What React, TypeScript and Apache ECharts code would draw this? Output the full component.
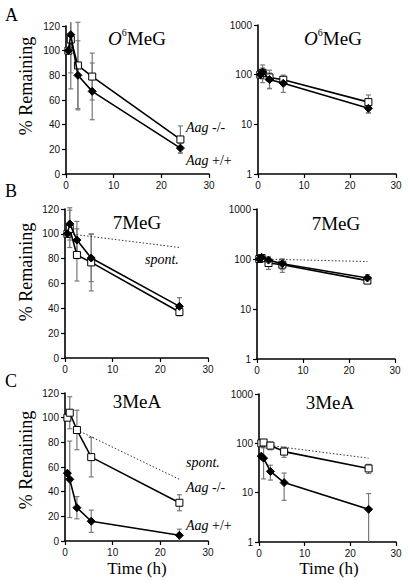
import React, { useEffect, useRef } from "react";
import * as echarts from "echarts";

// ---- data ----
const times = [0.5, 1, 2.5, 5.5, 24];
const xTicks = [0, 10, 20, 30];

// O6MeG
const o6KO = [100, 109, 88, 79, 28];
const o6KOErr = [0, 27, 35, 19, 11];
const o6WT = [100, 113, 80, 67, 21];
const o6WTErr = [0, 44, 28, 23, 4];

// 7MeG
const m7KO = [100, 104, 83, 77, 37];
const m7KOErr = [0, 15, 21, 23, 3];
const m7WT = [100, 108, 95, 80.5, 41.6];
const m7WTErr = [0, 13, 15, 19, 7];
const m7SpontT = [1, 24];
const m7Spont = [100, 89];

// 3MeA
const a3KO = [100, 104, 90, 68, 31];
const a3KOErr = [0, 13, 16, 16, 6.5];
const a3WT = [55, 50, 27, 16, 4.6];
const a3WTErr = [0, 31, 9, 9, 5];
const a3SpontT = [2.5, 24];
const a3Spont = [90, 50];

const SERIF = "Liberation Serif, Times New Roman, serif";
const SANS = "Liberation Sans, Arial, sans-serif";

type Panel = {
  ko: number[]; koErr: number[]; wt: number[]; wtErr: number[];
  spontT?: number[]; spont?: number[];
};
const panels: Panel[] = [
  { ko: o6KO, koErr: o6KOErr, wt: o6WT, wtErr: o6WTErr },
  { ko: m7KO, koErr: m7KOErr, wt: m7WT, wtErr: m7WTErr, spontT: m7SpontT, spont: m7Spont },
  { ko: a3KO, koErr: a3KOErr, wt: a3WT, wtErr: a3WTErr, spontT: a3SpontT, spont: a3Spont },
];

// grid boxes [left, top, width, height] for linear (left) and log (right)
const boxes = [
  [[66, 26, 143, 148], [258, 25, 138, 149]],
  [[65, 209, 143, 149], [257, 209, 138, 150]],
  [[65, 393, 143, 148], [259, 394, 137, 148]],
];

function errData(vals: number[], errs: number[], min: number, max: number) {
  const out: number[][] = [];
  times.forEach((t, i) => {
    if (!errs[i]) return;
    let lo = vals[i] - errs[i];
    let hi = vals[i] + errs[i];
    let capLo = 1, capHi = 1;
    if (lo < min) { lo = min; capLo = 0; }
    if (hi > max) { hi = max; capHi = 0; }
    out.push([t, lo, hi, capLo, capHi]);
  });
  return out;
}

const renderErr = (params: any, api: any) => {
  const x = api.value(0);
  const lo = api.value(1);
  const hi = api.value(2);
  const pLo = api.coord([x, lo]);
  const pHi = api.coord([x, hi]);
  const w = 2.5;
  const style = { stroke: "#7a7a7a", lineWidth: 1.2, fill: "none" };
  const children: any[] = [
    { type: "line", shape: { x1: pLo[0], y1: pLo[1], x2: pHi[0], y2: pHi[1] }, style },
  ];
  if (api.value(4)) children.push({ type: "line", shape: { x1: pHi[0] - w, y1: pHi[1], x2: pHi[0] + w, y2: pHi[1] }, style });
  if (api.value(3)) children.push({ type: "line", shape: { x1: pLo[0] - w, y1: pLo[1], x2: pLo[0] + w, y2: pLo[1] }, style });
  return { type: "group", children };
};

function buildOption() {
  const grid: any[] = [];
  const xAxis: any[] = [];
  const yAxis: any[] = [];
  const series: any[] = [];
  const axisLine = { show: true, lineStyle: { color: "#000", width: 1.6 } };
  const axisTick = { show: true, length: 4, inside: false, lineStyle: { color: "#000", width: 1.2 } };
  const lbl = { fontSize: 10, fontFamily: SANS, color: "#111" };
  let idx = 0;
  panels.forEach((p, pi) => {
    [0, 1].forEach((side) => {
      const b = boxes[pi][side];
      const isLog = side === 1;
      grid.push({ left: b[0], top: b[1], width: b[2], height: b[3] });
      xAxis.push({
        gridIndex: idx, type: "value", min: xTicks[0], max: xTicks[xTicks.length - 1], interval: 10,
        axisLine, axisTick, splitLine: { show: false },
        axisLabel: { ...lbl, margin: 6 },
      });
      if (isLog) {
        yAxis.push({
          gridIndex: idx, type: "log", logBase: 10, min: 1, max: 1000,
          axisLine, axisTick, splitLine: { show: false }, minorTick: { show: false },
          axisLabel: { ...lbl, margin: 6, formatter: (v: number) => String(Math.round(v)) },
        });
      } else {
        yAxis.push({
          gridIndex: idx, type: "value", min: 0, max: 120, interval: 20,
          axisLine, axisTick, splitLine: { show: false },
          axisLabel: { ...lbl, margin: 6 },
        });
      }
      const yMin = isLog ? 1 : 0;
      const yMax = isLog ? 1000 : 123;
      series.push({
        type: "custom", xAxisIndex: idx, yAxisIndex: idx, z: 1, silent: true,
        renderItem: renderErr, data: errData(p.ko, p.koErr, yMin, yMax),
        encode: { x: 0, y: [1, 2] }, clip: false,
      });
      series.push({
        type: "custom", xAxisIndex: idx, yAxisIndex: idx, z: 1, silent: true,
        renderItem: renderErr, data: errData(p.wt, p.wtErr, yMin, yMax),
        encode: { x: 0, y: [1, 2] }, clip: false,
      });
      if (p.spont && p.spontT) {
        series.push({
          type: "line", xAxisIndex: idx, yAxisIndex: idx, z: 2, silent: true,
          data: p.spontT.map((t, i) => [t, p.spont![i]]),
          symbol: "none", lineStyle: { color: "#333", width: 1, type: [1.5, 2] },
        });
      }
      series.push({
        type: "line", xAxisIndex: idx, yAxisIndex: idx, z: 3, silent: true,
        data: times.map((t, i) => [t, p.ko[i]]),
        symbol: "rect", symbolSize: 7,
        itemStyle: { color: "#fff", borderColor: "#000", borderWidth: 1 },
        lineStyle: { color: "#000", width: 1.6 },
      });
      series.push({
        type: "line", xAxisIndex: idx, yAxisIndex: idx, z: 4, silent: true,
        data: times.map((t, i) => [t, p.wt[i]]),
        symbol: "diamond", symbolSize: 8,
        itemStyle: { color: "#000", borderColor: "#000", borderWidth: 1 },
        lineStyle: { color: "#000", width: 1.6 },
      });
      idx++;
    });
  });

  const serifText = (text: string, x: number, y: number, size: number, extra: any = {}) => ({
    type: "text", x, y, silent: true,
    style: { text, fontSize: size, fontFamily: SERIF, fill: "#000", align: "left", verticalAlign: "middle", ...extra },
  });
  const richAag = (suffix: string, x: number, y: number) => ({
    type: "text", x, y, silent: true,
    style: {
      text: "{i|Aag}{n|" + suffix + "}", align: "left", verticalAlign: "middle",
      rich: {
        i: { fontSize: 14, fontFamily: SERIF, fontStyle: "italic", fill: "#000" },
        n: { fontSize: 14, fontFamily: SERIF, fill: "#000" },
      },
    },
  });
  const o6Title = (x: number, y: number) => ({
    type: "text", x, y, silent: true,
    style: {
      text: "{i|O}{s|6}{n|MeG}", align: "center", verticalAlign: "middle",
      rich: {
        i: { fontSize: 19, fontFamily: SERIF, fontStyle: "italic", fill: "#000", lineHeight: 22 },
        s: { fontSize: 10, fontFamily: SERIF, fill: "#000", lineHeight: 12, verticalAlign: "top" },
        n: { fontSize: 19, fontFamily: SERIF, fill: "#000", lineHeight: 22 },
      },
    },
  });
  const center = { align: "center" };

  const graphic: any[] = [
    serifText("A", 5, 15, 18),
    serifText("B", 5, 191, 18),
    serifText("C", 5, 381, 18),
    o6Title(137, 38),
    o6Title(333, 38),
    serifText("7MeG", 137, 222, 19, center),
    serifText("7MeG", 336, 223, 19, center),
    serifText("3MeA", 137, 401, 19, center),
    serifText("3MeA", 330, 402, 19, center),
    { ...serifText("% Remaining", 26, 86, 18, center), rotation: Math.PI / 2 },
    { ...serifText("% Remaining", 26, 272, 18, center), rotation: Math.PI / 2 },
    { ...serifText("% Remaining", 26, 460, 18, center), rotation: Math.PI / 2 },
    serifText("Time (h)", 137, 568, 17, center),
    serifText("Time (h)", 329, 568, 17, center),
    richAag(" -/-", 186, 127),
    richAag(" +/+", 186, 160),
    serifText("spont.", 145, 259, 14, { fontStyle: "italic" }),
    serifText("spont.", 186, 462, 14, { fontStyle: "italic" }),
    richAag(" -/-", 186, 487),
    richAag(" +/+", 186, 525),
  ];

  return { animation: false, backgroundColor: "#fff", grid, xAxis, yAxis, series, graphic };
}

export default function App() {
  const ref = useRef<HTMLDivElement>(null);
  useEffect(() => {
    if (!ref.current) return;
    const chart = echarts.init(ref.current, undefined, { renderer: "svg" });
    chart.setOption(buildOption() as any);
    return () => chart.dispose();
  }, []);
  return (
    <div
      ref={ref}
      style={{ position: "fixed", left: 0, top: 0, width: 408, height: 581, background: "#fff" }}
    />
  );
}
